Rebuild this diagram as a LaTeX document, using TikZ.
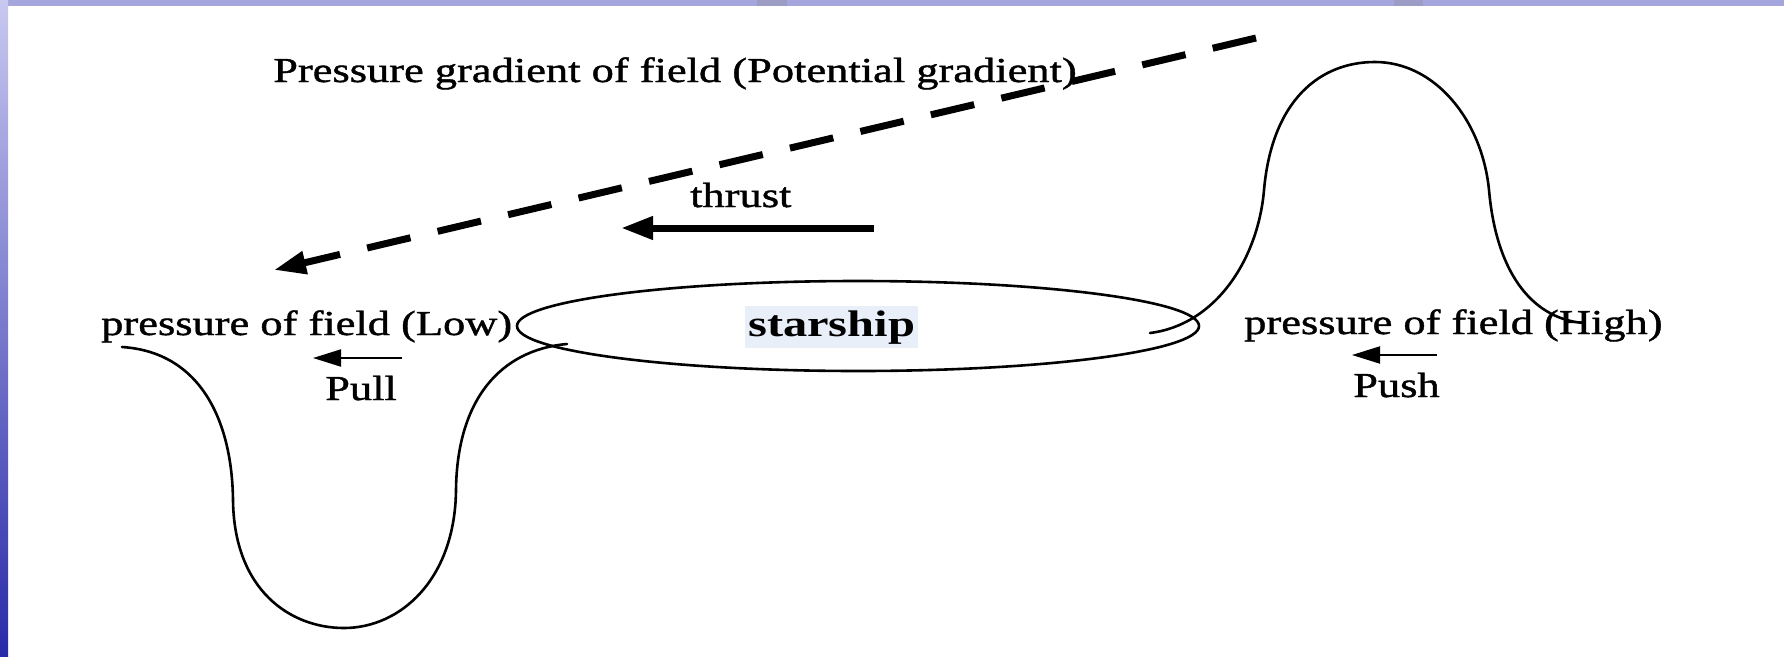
\documentclass[tikz,border=0pt]{standalone}
\usepackage{fontspec}
\usetikzlibrary{arrows.meta,shapes.geometric}
\newfontfamily\tnr[FakeStretch=1.27,FakeBold=1.2]{Liberation Serif}
\newfontfamily\tnrb[FakeStretch=1.31]{Liberation Serif Bold}
\definecolor{bandtop}{HTML}{A6A6DE}
\definecolor{bandmark}{HTML}{9C9CC4}
\definecolor{sidetop}{HTML}{C8C8F0}
\definecolor{sidemid}{HTML}{4C4CC0}
\definecolor{sidebot}{HTML}{2A2AA8}
\definecolor{hl}{HTML}{E8EFF8}
\tikzset{
  lbl/.style={font=\tnr\fontsize{35}{40}\selectfont, inner sep=0pt, anchor=base west},
  curve/.style={line width=2.6pt, line cap=round},
  bigarrow/.style={line width=7pt, -{Triangle[length=32pt,width=22pt]}},
  smallarrow/.style={line width=2pt, -{Triangle[length=28pt,width=17pt]}},
}
\begin{document}
\begin{tikzpicture}[x=1pt,y=-1pt]
\useasboundingbox (0,0) rectangle (1784,656);
\fill[white] (0,0) rectangle (1784,656);
% slide frame
\fill[bandtop] (0,0) rectangle (1784,6);
\fill[bandmark] (757,0) rectangle (787,6);
\fill[bandmark] (1394,0) rectangle (1423,6);
\shade[top color=sidetop, middle color=sidemid, bottom color=sidebot] (0,0) rectangle (8,656);

% texts
\node[lbl] (title) at (273,82) {Pressure gradient of field (Potential gradient)};
\node[lbl] (thrust) at (690,207) {thrust};
\node[lbl] (low) at (101,335) {pressure of field (Low)};
\node[lbl] (high) at (1244,334) {pressure of field (High)};
\node[lbl] (pull) at (325,400) {Pull};
\node[lbl] (push) at (1353,397) {Push};

% starship ellipse
\node[draw, ellipse, line width=2.6pt, minimum width=682pt, minimum height=90pt, inner sep=0pt] (ship) at (858,326) {};
\node[fill=hl, inner xsep=3pt, inner ysep=4pt, anchor=base west, font=\tnrb\fontsize{37}{42}\selectfont] (name) at (745,336) {starship};

% gradient dashed arrow
\coordinate (gradEnd) at (1256,38);
\coordinate (gradTip) at (274,270);
\draw[line width=7pt, dash pattern=on 44.5pt off 27.9pt, -{Triangle[length=32pt,width=22pt]}] (gradEnd) -- (gradTip);

% thrust arrow
\coordinate (thrustTail) at (874,228);
\coordinate (thrustTip) at (621,228);
\draw[bigarrow] (thrustTail) -- (thrustTip);

% pull / push arrows
\coordinate (pullTail) at (402,358);
\coordinate (pullTip) at (313,358);
\draw[smallarrow] (pullTail) -- (pullTip);
\coordinate (pushTail) at (1437,355);
\coordinate (pushTip) at (1352,355);
\draw[smallarrow] (pushTail) -- (pushTip);

% low-pressure well
\draw[curve] (122,347) .. controls (200,352) and (232,420) .. (233,500)
  .. controls (234,590) and (290,628) .. (344,628)
  .. controls (400,628) and (455,580) .. (456,490)
  .. controls (457,400) and (500,350) .. (567,344);

% high-pressure hill
\draw[curve] (1150,333) .. controls (1215,325) and (1258,260) .. (1264,190)
  .. controls (1272,100) and (1320,62) .. (1375,62)
  .. controls (1435,62) and (1482,120) .. (1489,190)
  .. controls (1496,270) and (1530,318) .. (1583,323);
\end{tikzpicture}
\end{document}
